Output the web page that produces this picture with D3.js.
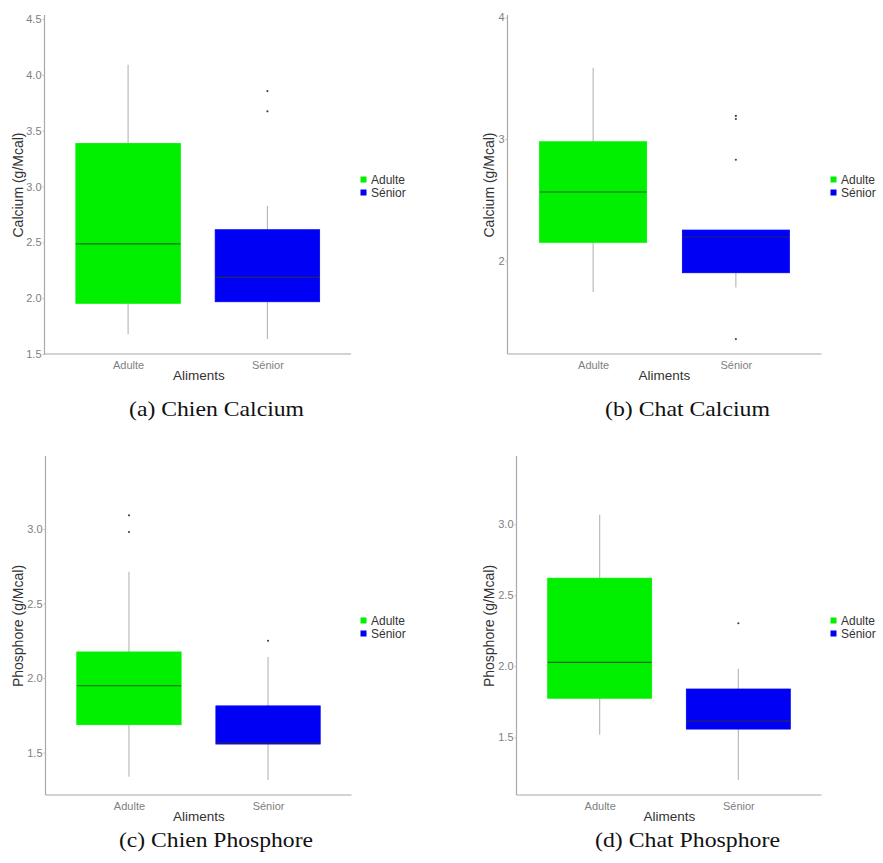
<!DOCTYPE html>
<html>
<head>
<meta charset="utf-8">
<script src="https://cdn.jsdelivr.net/npm/d3@7"></script>
<style>
  html, body { margin: 0; padding: 0; background: #fff; }
  svg { display: block; }
</style>
</head>
<body>
<svg id="chart" width="883" height="863"></svg>
<script>
// ---------- DATA ----------
const groups = ["Adulte", "Sénior"];
const groupColors = ["#00f000", "#0000f5"];
const xTitle = "Aliments";

// stats per group: [lower whisker, Q1, median, Q3, upper whisker]
const chienCalciumStats = [[1.676, 1.954, 2.487, 3.386, 4.09], [1.634, 1.968, 2.187, 2.613, 2.828]];
const chienCalciumOutliers = [[], [3.855, 3.673]];
const chienCalciumDomain = [1.5, 4.536];
const chienCalciumTicks = [1.5, 2.0, 2.5, 3.0, 3.5, 4.0, 4.5];

const chatCalciumStats = [[1.743, 2.151, 2.565, 2.978, 3.586], [1.78, 1.901, 2.195, 2.252, 2.252]];
const chatCalciumOutliers = [[], [3.19, 3.165, 2.83, 1.356]];
const chatCalciumDomain = [1.233, 4.02];
const chatCalciumTicks = [2, 3, 4];

const chienPhosphoreStats = [[1.338, 1.687, 1.948, 2.175, 2.714], [1.316, 1.557, 1.565, 1.813, 2.141]];
const chienPhosphoreOutliers = [[3.092, 2.98], [2.25]];
const chienPhosphoreDomain = [1.215, 3.49];
const chienPhosphoreTicks = [1.5, 2.0, 2.5, 3.0];

const chatPhosphoreStats = [[1.518, 1.775, 2.028, 2.62, 3.066], [1.2, 1.558, 1.614, 1.84, 1.983]];
const chatPhosphoreOutliers = [[], [2.303]];
const chatPhosphoreDomain = [1.094, 3.48];
const chatPhosphoreTicks = [1.5, 2.0, 2.5, 3.0];

const yTitles = ["Calcium (g/Mcal)", "Calcium (g/Mcal)", "Phosphore (g/Mcal)", "Phosphore (g/Mcal)"];
const captions = ["(a) Chien Calcium", "(b) Chat Calcium", "(c) Chien Phosphore", "(d) Chat Phosphore"];

// ---------- LAYOUT ----------
const panels = [
  { stats: chienCalciumStats, out: chienCalciumOutliers, dom: chienCalciumDomain, ticks: chienCalciumTicks, fmt: ".1f",
    x0: 44.5, x1: 351, top: 15, bottom: 354, yTitleX: 18, yTitleY: 185, xTitleX: 199, xTitleY: 380,
    legX: 360.5, legY: 176.5, capX: 216.5, capY: 416, capW: 175 },
  { stats: chatCalciumStats, out: chatCalciumOutliers, dom: chatCalciumDomain, ticks: chatCalciumTicks, fmt: "d",
    x0: 507.5, x1: 821.5, top: 15, bottom: 354, yTitleX: 489, yTitleY: 185, xTitleX: 664.5, xTitleY: 380,
    legX: 830.5, legY: 176.5, capX: 687.5, capY: 416, capW: 165 },
  { stats: chienPhosphoreStats, out: chienPhosphoreOutliers, dom: chienPhosphoreDomain, ticks: chienPhosphoreTicks, fmt: ".1f",
    x0: 45.5, x1: 351.5, top: 456, bottom: 795, yTitleX: 18, yTitleY: 626, xTitleX: 199, xTitleY: 821,
    legX: 360.5, legY: 617.5, capX: 216, capY: 847, capW: 194 },
  { stats: chatPhosphoreStats, out: chatPhosphoreOutliers, dom: chatPhosphoreDomain, ticks: chatPhosphoreTicks, fmt: ".1f",
    x0: 516.5, x1: 821.5, top: 456, bottom: 795, yTitleX: 489, yTitleY: 626, xTitleX: 669.5, xTitleY: 821,
    legX: 830.5, legY: 617.5, capX: 687.5, capY: 847, capW: 185 }
];

const svg = d3.select("#chart");
const sans = "'Liberation Sans', Arial, Helvetica, sans-serif";
const serif = "'Liberation Serif', 'Times New Roman', serif";

panels.forEach((p, i) => {
  const g = svg.append("g");
  const x = d3.scalePoint().domain(groups).range([p.x0, p.x1]).padding(0.6);
  const y = d3.scaleLinear().domain(p.dom).range([p.bottom, p.top]);
  const bw = x.step() * 0.75;

  const yAxis = d3.axisLeft(y).tickValues(p.ticks).tickFormat(d3.format(p.fmt)).tickSize(2).tickPadding(1);
  const ya = g.append("g").attr("transform", `translate(${p.x0},0)`).call(yAxis);
  ya.select(".domain").attr("d", `M0,${p.top}V${p.bottom}`).attr("stroke", "#a8a8a8").attr("stroke-width", 1.2);
  ya.selectAll(".tick line").attr("stroke", "#bbb");
  ya.selectAll(".tick text").attr("fill", "#808080").attr("font-size", 11).attr("font-family", sans);

  const xAxis = d3.axisBottom(x).tickSize(0).tickPadding(7);
  const xa = g.append("g").attr("transform", `translate(0,${p.bottom})`).call(xAxis);
  xa.select(".domain").attr("d", `M${p.x0},0H${p.x1}`).attr("stroke", "#a8a8a8").attr("stroke-width", 1.2);
  xa.selectAll(".tick text").attr("fill", "#808080").attr("font-size", 11).attr("font-family", sans);

  groups.forEach((grp, k) => {
    const s = p.stats[k];
    const cx = x(grp);
    g.append("line").attr("x1", cx).attr("x2", cx).attr("y1", y(s[4])).attr("y2", y(s[3]))
      .attr("stroke", "#b5b5b5").attr("stroke-width", 1.1);
    g.append("line").attr("x1", cx).attr("x2", cx).attr("y1", y(s[1])).attr("y2", y(s[0]))
      .attr("stroke", "#b5b5b5").attr("stroke-width", 1.1);
    g.append("rect").attr("x", cx - bw / 2).attr("y", y(s[3])).attr("width", bw).attr("height", y(s[1]) - y(s[3]))
      .attr("fill", groupColors[k]).attr("stroke", groupColors[k]).attr("stroke-width", 0.8);
    g.append("line").attr("x1", cx - bw / 2).attr("x2", cx + bw / 2).attr("y1", y(s[2])).attr("y2", y(s[2]))
      .attr("stroke", "#333").attr("stroke-opacity", 0.75).attr("stroke-width", 1.2);
    p.out[k].forEach(v => {
      g.append("circle").attr("cx", cx).attr("cy", y(v)).attr("r", 1.1).attr("fill", "#444");
    });
  });

  g.append("text").attr("transform", `translate(${p.yTitleX},${p.yTitleY}) rotate(-90)`)
    .attr("text-anchor", "middle").attr("dominant-baseline", "central")
    .attr("font-family", sans).attr("font-size", 14).attr("fill", "#333").text(yTitles[i]);
  g.append("text").attr("x", p.xTitleX).attr("y", p.xTitleY).attr("text-anchor", "middle")
    .attr("font-family", sans).attr("font-size", 13.5).attr("fill", "#333").text(xTitle);

  groups.forEach((grp, k) => {
    g.append("rect").attr("x", p.legX).attr("y", p.legY + k * 13).attr("width", 6).attr("height", 6)
      .attr("fill", groupColors[k]);
    g.append("text").attr("x", p.legX + 10.5).attr("y", p.legY + k * 13 + 7.5)
      .attr("font-family", sans).attr("font-size", 12).attr("fill", "#333")
      .text(grp);
  });

  g.append("text").attr("x", p.capX).attr("y", p.capY).attr("text-anchor", "middle")
    .attr("font-family", serif).attr("font-size", 21).attr("fill", "#111")
    .attr("textLength", p.capW).attr("lengthAdjust", "spacingAndGlyphs").text(captions[i]);
});
</script>
</body>
</html>
